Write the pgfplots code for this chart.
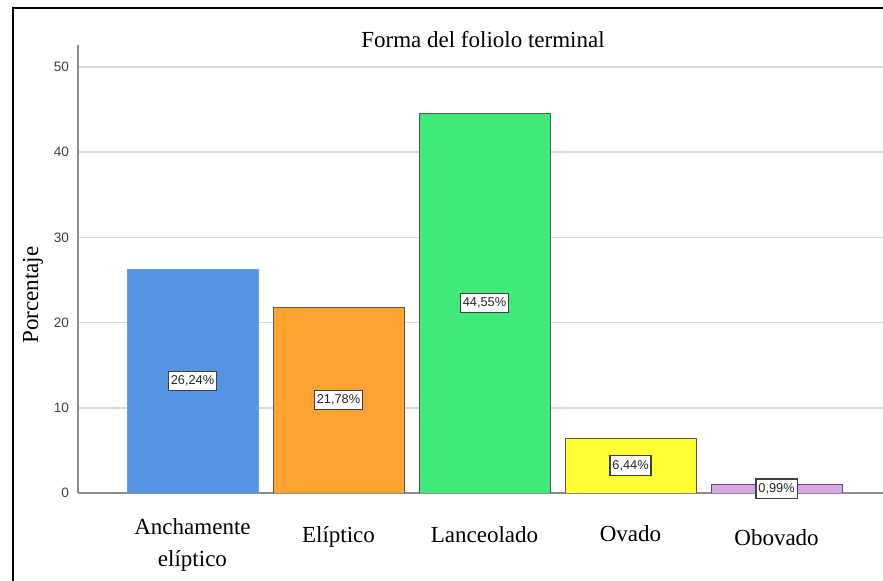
\documentclass[border=0pt]{standalone}
\usepackage{fontspec}
\setmainfont{Liberation Serif}
\setsansfont{Liberation Sans}
\usepackage{pgfplots}
\pgfplotsset{compat=1.18}
\definecolor{cBlue}{RGB}{83,149,227}
\definecolor{cOrange}{RGB}{254,162,48}
\definecolor{cGreen}{RGB}{64,234,122}
\definecolor{cYellow}{RGB}{255,255,51}
\definecolor{cPurple}{RGB}{214,166,230}
\begin{document}
\begin{tikzpicture}
\useasboundingbox (0,0) rectangle (441.5pt,290.5pt);
\clip (0,0) rectangle (441.5pt,290.5pt);
\begin{axis}[
  at={(39pt,44pt)}, anchor=south west,
  scale only axis, width=402.5pt, height=224pt,
  xmin=-0.784, xmax=4.729, ymin=0, ymax=52.58,
  ybar, bar width=65.5pt, bar shift=0pt,
  axis x line*=bottom, axis y line*=left,
  axis line style={draw=black!45, line width=0.8pt},
  ymajorgrids, grid style={draw=black!15, line width=0.8pt},
  ytick={0,10,...,50}, xtick={0,1,2,3,4},
  xticklabels={{Anchamente\\elíptico},{\rule{0pt}{12pt}Elíptico},{\rule{0pt}{12pt}Lanceolado},{\rule{0pt}{11.5pt}Ovado},{\rule{0pt}{13.5pt}Obovado}},
  major tick length=0pt,
  yticklabel style={font=\sffamily\fontsize{6.8}{8}\selectfont, text=black!75, xshift=-1pt},
  xticklabel style={font=\fontsize{11.5}{16}\selectfont, align=center, yshift=-9pt},
  /pgf/number format/assume math mode=true,
  nodes near coords={\pgfmathprintnumber[fixed,fixed zerofill,precision=2,use comma]{\pgfplotspointmeta}\%},
  nodes near coords align={center},
  visualization depends on={y \as \rawy},
  every node near coord/.append style={shift={(axis direction cs:0,-\rawy/2)},
    fill=white, draw=black!75, line width=0.6pt, inner xsep=1.2pt, inner ysep=2.2pt,
    font=\sffamily\fontsize{6.4}{7}\selectfont, text=black!85},
]
\addplot[fill=cBlue, draw=cBlue!90!white] coordinates {(0,26.24)};
\addplot[fill=cOrange, draw=black!65] coordinates {(1,21.78)};
\addplot[fill=cGreen, draw=black!65] coordinates {(2,44.55)};
\addplot[fill=cYellow, draw=black!65] coordinates {(3,6.44)};
\addplot[fill=cPurple, draw=black!65] coordinates {(4,0.99)};
\end{axis}
\node[font=\fontsize{11.5}{14}\selectfont] at (241.5pt,270.5pt) {Forma del foliolo terminal};
\node[rotate=90, font=\fontsize{11.5}{14}\selectfont] at (16.5pt,143pt) {Porcentaje};
\draw[line width=1pt] (6.5pt,0pt) -- (6.5pt,286.5pt) -- (441.5pt,286.5pt);
\end{tikzpicture}
\end{document}
